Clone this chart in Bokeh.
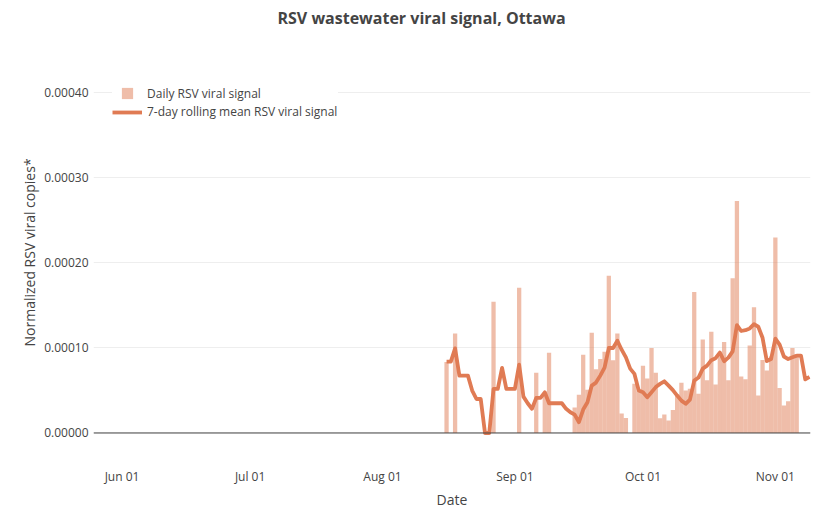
import pandas as pd
from bokeh.plotting import figure
from bokeh.models import (FixedTicker, PrintfTickFormatter, DatetimeTickFormatter,
                          Range1d, Span, Legend, LegendItem, ColumnDataSource, Label, Title)
from bokeh.embed import file_html
from bokeh.resources import INLINE

# ---------------- data ----------------
bar_dates = [
    "2023-08-16", "2023-08-18", "2023-08-27", "2023-09-02", "2023-09-06", "2023-09-08",
    "2023-09-09", "2023-09-15", "2023-09-16", "2023-09-17", "2023-09-18", "2023-09-19",
    "2023-09-20", "2023-09-21", "2023-09-22", "2023-09-23", "2023-09-24", "2023-09-25",
    "2023-09-26", "2023-09-27", "2023-09-29", "2023-09-30", "2023-10-01", "2023-10-02",
    "2023-10-03", "2023-10-04", "2023-10-05", "2023-10-06", "2023-10-07", "2023-10-08",
    "2023-10-09", "2023-10-10", "2023-10-11", "2023-10-12", "2023-10-13", "2023-10-14",
    "2023-10-15", "2023-10-16", "2023-10-17", "2023-10-18", "2023-10-19", "2023-10-20",
    "2023-10-21", "2023-10-22", "2023-10-23", "2023-10-24", "2023-10-25", "2023-10-26",
    "2023-10-27", "2023-10-28", "2023-10-29", "2023-10-30", "2023-10-31", "2023-11-01",
    "2023-11-02", "2023-11-03", "2023-11-04", "2023-11-05", "2023-11-06",
]
bar_values = [
    0.0000835, 0.0001170, 0.0001545, 0.0001710, 0.0000710, 0.0000474,
    0.0000944, 0.0000300, 0.0000450, 0.0000920, 0.0000510, 0.0001180,
    0.0000750, 0.0000870, 0.0000955, 0.0001850, 0.0000855, 0.0001170,
    0.0000230, 0.0000176, 0.0000580, 0.0000490, 0.0000790, 0.0000640,
    0.0001000, 0.0000710, 0.0000174, 0.0000217, 0.0000147, 0.0000270,
    0.0000454, 0.0000590, 0.0000500, 0.0000520, 0.0001660, 0.0000462,
    0.0001100, 0.0000620, 0.0001190, 0.0000570, 0.0000900, 0.0001070,
    0.0000620, 0.0001820, 0.0002730, 0.0000665, 0.0000632, 0.0001030,
    0.0001480, 0.0000440, 0.0000860, 0.0000735, 0.0000900, 0.0002300,
    0.0000530, 0.0000323, 0.0000374, 0.0001000, 0.0000930,
]

line_first_date = "2023-08-16"
line_values_e5 = [
    # Aug 16 - Aug 31
    8.39, 8.39, 9.96, 6.75, 6.75, 6.75, 4.99, 4.00, 4.00, 0.00, 0.00, 5.19, 5.19, 7.65, 5.19, 5.19,
    # Sep 1 - Sep 30
    5.19, 8.04, 4.28, 3.50, 2.84, 4.13, 4.13, 4.79, 3.50, 3.50, 3.50, 3.50, 2.84, 2.44, 2.17,
    1.27, 2.76, 3.62, 5.58, 5.93, 6.75, 7.70, 10.0, 10.0, 10.86, 9.80, 8.90, 7.57, 6.95, 5.00,
    # Oct 1 - Oct 31
    4.79, 4.21, 4.80, 5.40, 5.78, 6.08, 5.58, 5.05, 4.40, 3.81, 3.43, 3.93, 6.16, 6.52, 7.57,
    7.93, 8.57, 8.80, 9.46, 8.45, 8.87, 9.60, 12.7, 12.0, 12.1, 12.3, 12.8, 12.5, 11.2, 8.45, 8.70,
    # Nov 1 - Nov 9
    11.1, 10.4, 9.00, 8.70, 8.90, 9.10, 9.10, 6.30, 6.60,
]

y_ticks = [0.0, 0.0001, 0.0002, 0.0003, 0.0004]
x_tick_dates = ["2023-06-01", "2023-07-01", "2023-08-01", "2023-09-01", "2023-10-01", "2023-11-01"]

title_text = "RSV wastewater viral signal, Ottawa"
y_title_text = "Normalized RSV viral copies*"
x_title_text = "Date"
bar_label = "Daily RSV viral signal"
line_label = "7-day rolling mean RSV viral signal"

# ---------------- build ----------------
BAR_COLOR = "#E07B54"
LINE_COLOR = "#E07B54"
TXT = "#444444"
FONT = "Open Sans"

bar_src = ColumnDataSource(dict(x=pd.to_datetime(bar_dates), top=bar_values))
line_x = pd.date_range(line_first_date, periods=len(line_values_e5), freq="D")
line_src = ColumnDataSource(dict(x=line_x, y=[v * 1e-5 for v in line_values_e5]))

x_start = pd.Timestamp("2023-05-25 07:40")
x_end = pd.Timestamp("2023-11-09 05:30")

# the (invisible) frame reaches the top of the canvas: 461 px tall, y=0 at 432.5 px
p = figure(width=825, height=516, x_axis_type="datetime",
           output_backend="svg", toolbar_location=None,
           x_range=Range1d(x_start, x_end),
           y_range=Range1d(-0.00003353, 0.00050882),
           min_border_left=93, min_border_right=15,
           min_border_top=0, min_border_bottom=55)

p.outline_line_color = None
p.background_fill_color = "white"
p.border_fill_color = "white"

# title, in screen units measured from the frame's lower-left corner
title = Label(x=328, y=444, x_units="screen", y_units="screen", text=title_text,
              text_align="center", text_baseline="middle",
              text_font=FONT, text_font_size="16px", text_font_style="bold",
              text_color=TXT)
p.add_layout(title)

bars = p.vbar(x="x", top="top", width=86400000, source=bar_src,
              fill_color=BAR_COLOR, fill_alpha=0.5, line_color=None)
line = p.line(x="x", y="y", source=line_src, line_color=LINE_COLOR, line_width=3.8,
              line_join="round")

# square symbol for the legend entry of the bars (not drawn in the plot)
legend_sq = p.scatter(x="x", y="top", source=bar_src, marker="square", size=13,
                      fill_color=BAR_COLOR, fill_alpha=0.5, line_color=None,
                      visible=False)

zero = Span(location=0, dimension="width", line_color=TXT, line_width=1)
p.add_layout(zero)

# axes
p.yaxis.ticker = FixedTicker(ticks=y_ticks)
p.yaxis.formatter = PrintfTickFormatter(format="%.5f")
p.xaxis.ticker = FixedTicker(ticks=[pd.Timestamp(d).value // 10**6 for d in x_tick_dates])
fmt = "%b %d"
p.xaxis.formatter = DatetimeTickFormatter(days=fmt, months=fmt, years=fmt, hours=fmt,
                                          minutes=fmt, seconds=fmt, minsec=fmt,
                                          hourmin=fmt, milliseconds=fmt, microseconds=fmt)
p.xaxis.axis_label = x_title_text

for ax in (p.xaxis[0], p.yaxis[0]):
    ax.axis_line_color = None
    ax.major_tick_line_color = None
    ax.minor_tick_line_color = None
    ax.major_tick_out = 0
    ax.major_tick_in = 0
    ax.minor_tick_out = 0
    ax.minor_tick_in = 0
    ax.major_label_text_font = FONT
    ax.major_label_text_font_size = "12px"
    ax.major_label_text_color = TXT
    ax.axis_label_text_font = FONT
    ax.axis_label_text_font_size = "14px"
    ax.axis_label_text_font_style = "normal"
    ax.axis_label_text_color = TXT

p.xaxis.major_label_standoff = 6
p.xaxis.axis_label_standoff = 2
p.yaxis.major_label_standoff = 5

# y-axis title as a side title, shifted so it is centred on the plot area of the reference
y_title = Title(text=y_title_text, align="left", offset=115, standoff=5,
                text_font=FONT, text_font_size="14px", text_font_style="normal",
                text_color=TXT)
p.add_layout(y_title, "left")

p.xgrid.grid_line_color = None
p.ygrid.grid_line_color = "#eeeeee"
p.ygrid.grid_line_width = 1

common = dict(padding=5, glyph_width=30, label_standoff=5,
              label_text_font=FONT, label_text_font_size="12px", label_text_color=TXT,
              background_fill_color="white", background_fill_alpha=1.0,
              border_line_color=None)
legend_bar = Legend(items=[LegendItem(label=bar_label, renderers=[legend_sq])],
                    location=(19, 354), glyph_height=28, label_height=28,
                    label_width=191, **common)
legend_line = Legend(items=[LegendItem(label=line_label, renderers=[line])],
                     location=(19, 341), glyph_height=16, label_height=16, **common)
p.add_layout(legend_bar)
p.add_layout(legend_line)

open("out.html", "w").write(file_html(p, INLINE))
